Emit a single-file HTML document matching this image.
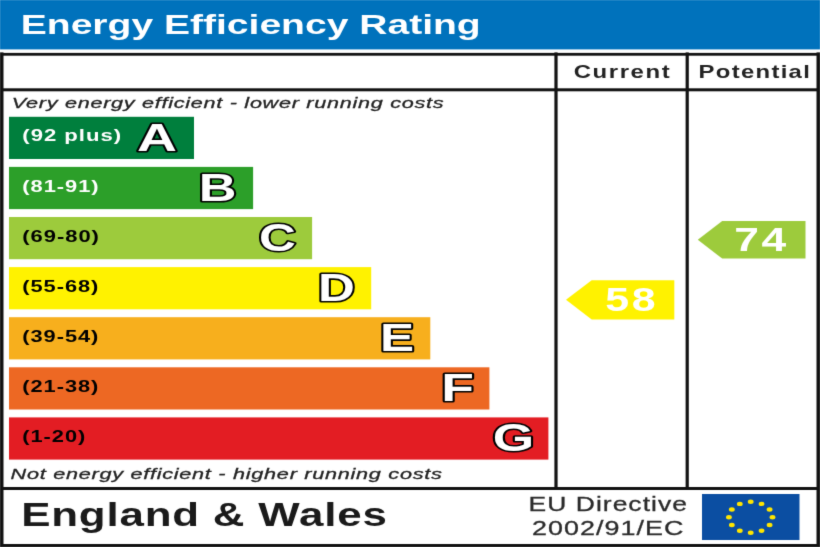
<!DOCTYPE html><html><head><meta charset='utf-8'><style>html,body{margin:0;padding:0;background:#fff;width:820px;height:547px;overflow:hidden}svg{display:block}#w{width:820px;height:547px}</style></head><body><div id='w'><svg width='820' height='547' viewBox='0 0 820 547' font-family='Liberation Sans'>
<defs><filter id='bl' x='-1%' y='-1%' width='102%' height='102%' color-interpolation-filters='sRGB'><feConvolveMatrix order='3' kernelMatrix='0.0113 0.0838 0.0113 0.0838 0.6193 0.0838 0.0113 0.0838 0.0113' edgeMode='duplicate'/></filter></defs><g filter='url(#bl)'><rect width='820' height='547' fill='#fff'/>
<rect x='0' y='0' width='820' height='49.4' fill='#0072bc'/>
<text transform='translate(20.77,33.60) scale(1.3945,1)' font-size='28' font-weight='bold' font-style='normal' fill='#fff'>Energy Efficiency Rating</text>
<rect x='0' y='52.9' width='820' height='2.8' fill='#121212'/>
<rect x='0' y='52.4' width='3.5' height='494.6' fill='#121212'/>
<rect x='816.5' y='52.4' width='3.5' height='494.6' fill='#121212'/>
<rect x='0' y='544' width='820' height='3' fill='#121212'/>
<rect x='0' y='88.3' width='820' height='3' fill='#121212'/>
<rect x='0' y='487' width='820' height='3' fill='#121212'/>
<rect x='554.4' y='52.4' width='3.2' height='436.5' fill='#121212'/>
<rect x='685.6' y='52.4' width='3.2' height='436.5' fill='#121212'/>
<text transform='translate(573.64,77.60) scale(1.3168,1)' font-size='18.2' font-weight='bold' font-style='normal' fill='#222' letter-spacing='1.2'>Current</text>
<text transform='translate(698.53,77.60) scale(1.3118,1)' font-size='18.2' font-weight='bold' font-style='normal' fill='#222' letter-spacing='1.0'>Potential</text>
<text transform='translate(11.75,108.20) scale(1.4410,1)' font-size='15' font-weight='normal' font-style='italic' fill='#222' stroke='#222' stroke-width='0.3' letter-spacing='0.5'>Very energy efficient - lower running costs</text>
<text transform='translate(10.55,478.70) scale(1.4451,1)' font-size='15' font-weight='normal' font-style='italic' fill='#222' stroke='#222' stroke-width='0.3' letter-spacing='0.5'>Not energy efficient - higher running costs</text>
<rect x='9' y='116.8' width='185.0' height='42.2' fill='#007f3d'/>
<text transform='translate(22.29,141.40) scale(1.3847,1)' font-size='16' font-weight='bold' font-style='normal' fill='#fff' letter-spacing='0.7'>(92 plus)</text>
<text transform='translate(137.04,150.80) scale(1.4366,1)' font-size='38.5' font-weight='bold' font-style='normal' fill='#fff' stroke='#000' stroke-width='3.2' paint-order='stroke' stroke-linejoin='round'>A</text>
<rect x='9' y='166.9' width='244.1' height='42.2' fill='#2c9f29'/>
<text transform='translate(22.30,191.50) scale(1.3692,1)' font-size='16' font-weight='bold' font-style='normal' fill='#fff' letter-spacing='0.7'>(81-91)</text>
<text transform='translate(198.81,200.90) scale(1.3566,1)' font-size='38.5' font-weight='bold' font-style='normal' fill='#fff' stroke='#000' stroke-width='3.2' paint-order='stroke' stroke-linejoin='round'>B</text>
<rect x='9' y='217.0' width='303.1' height='42.2' fill='#9dcb3c'/>
<text transform='translate(22.30,241.60) scale(1.3747,1)' font-size='16' font-weight='bold' font-style='normal' fill='#000' letter-spacing='0.7'>(69-80)</text>
<text transform='translate(259.08,251.00) scale(1.3286,1)' font-size='38.5' font-weight='bold' font-style='normal' fill='#fff' stroke='#000' stroke-width='3.2' paint-order='stroke' stroke-linejoin='round'>C</text>
<rect x='9' y='267.1' width='362.2' height='42.2' fill='#fff200'/>
<text transform='translate(22.31,291.70) scale(1.3636,1)' font-size='16' font-weight='bold' font-style='normal' fill='#000' letter-spacing='0.7'>(55-68)</text>
<text transform='translate(318.05,301.10) scale(1.3266,1)' font-size='38.5' font-weight='bold' font-style='normal' fill='#fff' stroke='#000' stroke-width='3.2' paint-order='stroke' stroke-linejoin='round'>D</text>
<rect x='9' y='317.2' width='421.3' height='42.2' fill='#f7af1d'/>
<text transform='translate(22.31,341.80) scale(1.3636,1)' font-size='16' font-weight='bold' font-style='normal' fill='#000' letter-spacing='0.7'>(39-54)</text>
<text transform='translate(380.05,351.20) scale(1.3288,1)' font-size='38.5' font-weight='bold' font-style='normal' fill='#fff' stroke='#000' stroke-width='3.2' paint-order='stroke' stroke-linejoin='round'>E</text>
<rect x='9' y='367.3' width='480.4' height='42.2' fill='#ed6823'/>
<text transform='translate(22.31,391.90) scale(1.3636,1)' font-size='16' font-weight='bold' font-style='normal' fill='#000' letter-spacing='0.7'>(21-38)</text>
<text transform='translate(441.28,401.30) scale(1.3898,1)' font-size='38.5' font-weight='bold' font-style='normal' fill='#fff' stroke='#000' stroke-width='3.2' paint-order='stroke' stroke-linejoin='round'>F</text>
<rect x='9' y='417.4' width='539.4' height='42.2' fill='#e31d23'/>
<text transform='translate(22.31,442.00) scale(1.3626,1)' font-size='16' font-weight='bold' font-style='normal' fill='#000' letter-spacing='0.7'>(1-20)</text>
<text transform='translate(492.68,451.40) scale(1.3853,1)' font-size='38.5' font-weight='bold' font-style='normal' fill='#fff' stroke='#000' stroke-width='3.2' paint-order='stroke' stroke-linejoin='round'>G</text>
<polygon points='566,299.85 591.7,280.2 674.3,280.2 674.3,319.5 591.7,319.5' fill='#fff200'/>
<text transform='translate(605.31,311.20) scale(1.2626,1)' font-size='34' font-weight='bold' font-style='normal' fill='#fff' letter-spacing='2.0'>58</text>
<polygon points='697.8,239.8 722.2,221.0 805.5,221.0 805.5,258.6 722.2,258.6' fill='#9dcb3c'/>
<text transform='translate(734.32,251.10) scale(1.3054,1)' font-size='34' font-weight='bold' font-style='normal' fill='#fff' letter-spacing='2.0'>74</text>
<text transform='translate(21.13,525.60) scale(1.3501,1)' font-size='32.5' font-weight='bold' font-style='normal' fill='#1a1a1a' letter-spacing='0.6'>England &amp; Wales</text>
<text transform='translate(528.58,510.80) scale(1.2904,1)' font-size='20.5' font-weight='normal' font-style='normal' fill='#2a2a2a' stroke='#2a2a2a' stroke-width='0.3' letter-spacing='0.8'>EU Directive</text>
<text transform='translate(532.06,535.00) scale(1.3117,1)' font-size='20.5' font-weight='normal' font-style='normal' fill='#2a2a2a' stroke='#2a2a2a' stroke-width='0.3' letter-spacing='0.8'>2002/91/EC</text>
<rect x='702' y='494' width='97.5' height='46' fill='#0b4ea2'/>
<ellipse cx='750.70' cy='501.80' rx='2.9' ry='2.2' fill='#ffe600'/>
<ellipse cx='761.60' cy='503.88' rx='2.9' ry='2.2' fill='#ffe600'/>
<ellipse cx='769.58' cy='509.55' rx='2.9' ry='2.2' fill='#ffe600'/>
<ellipse cx='772.50' cy='517.30' rx='2.9' ry='2.2' fill='#ffe600'/>
<ellipse cx='769.58' cy='525.05' rx='2.9' ry='2.2' fill='#ffe600'/>
<ellipse cx='761.60' cy='530.72' rx='2.9' ry='2.2' fill='#ffe600'/>
<ellipse cx='750.70' cy='532.80' rx='2.9' ry='2.2' fill='#ffe600'/>
<ellipse cx='739.80' cy='530.72' rx='2.9' ry='2.2' fill='#ffe600'/>
<ellipse cx='731.82' cy='525.05' rx='2.9' ry='2.2' fill='#ffe600'/>
<ellipse cx='728.90' cy='517.30' rx='2.9' ry='2.2' fill='#ffe600'/>
<ellipse cx='731.82' cy='509.55' rx='2.9' ry='2.2' fill='#ffe600'/>
<ellipse cx='739.80' cy='503.88' rx='2.9' ry='2.2' fill='#ffe600'/>
</g></svg></div></body></html>
